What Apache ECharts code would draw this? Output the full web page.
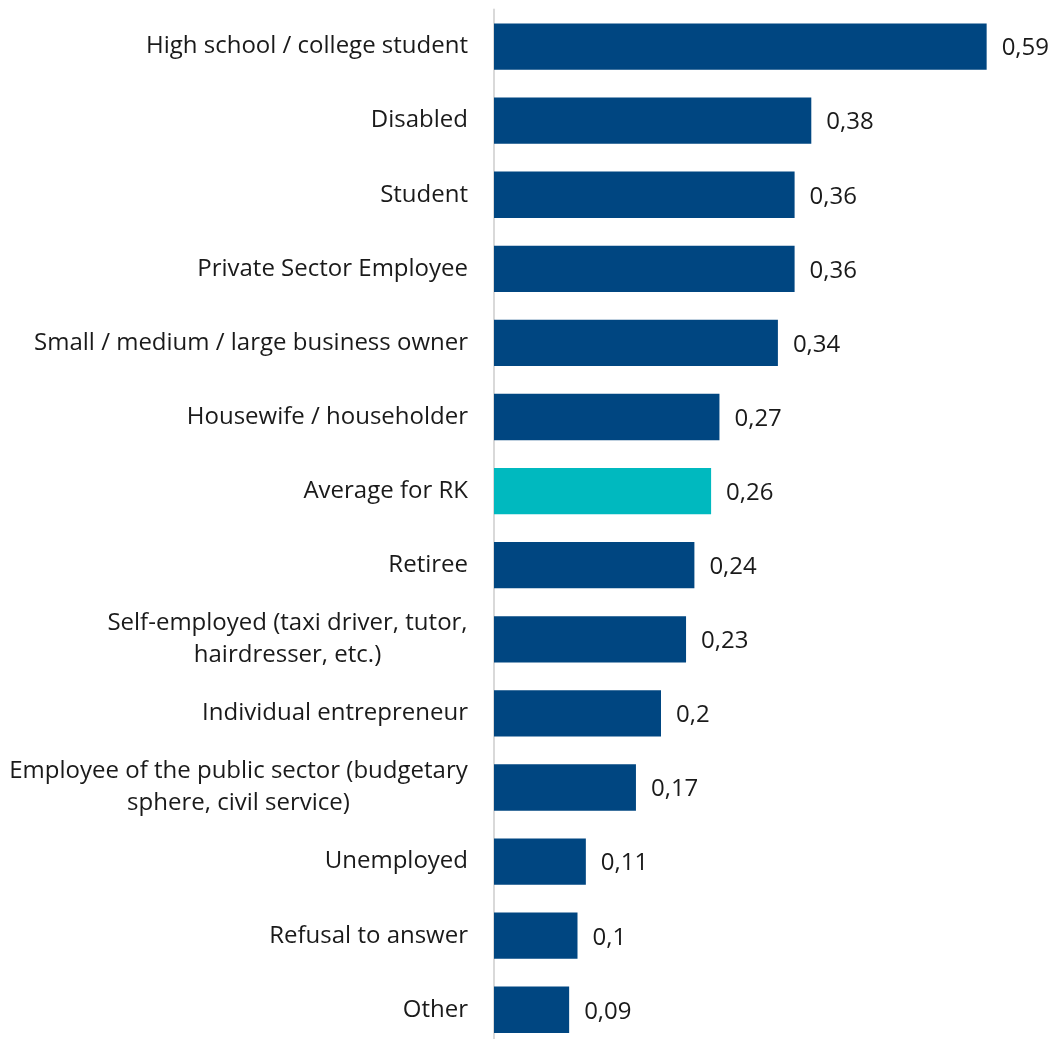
<!DOCTYPE html>
<html>
<head>
<meta charset="utf-8">
<script src="https://cdn.jsdelivr.net/npm/echarts@6/dist/echarts.min.js"></script>
<style>html,body{margin:0;padding:0;background:#fff;overflow:hidden}#c{width:1051px;height:1060px}</style>
</head>
<body>
<div id="c"></div>
<script>
const categories = [
  "High school / college student",
  "Disabled",
  "Student",
  "Private Sector Employee",
  "Small / medium / large business owner",
  "Housewife / householder",
  "Average for RK",
  "Retiree",
  "Self-employed (taxi driver, tutor,\nhairdresser, etc.)",
  "Individual entrepreneur",
  "Employee of the public sector (budgetary\nsphere, civil service)",
  "Unemployed",
  "Refusal to answer",
  "Other"
];
const values = [0.59, 0.38, 0.36, 0.36, 0.34, 0.27, 0.26, 0.24, 0.23, 0.2, 0.17, 0.11, 0.1, 0.09];
const highlightCategory = "Average for RK";

const FONT = '"Open Sans", "Noto Sans", sans-serif';
const FS = 24;
const LH = 32;
const TXT = '#1a1a1a';
const ctx = document.createElement('canvas').getContext('2d');
ctx.font = FS + 'px ' + FONT;

const rich = {};
const labelText = {};
categories.forEach((c, i) => {
  const lines = c.split('\n');
  if (lines.length > 1) {
    const w = Math.ceil(Math.max(...lines.map(l => ctx.measureText(l).width)));
    const key = 'm' + i;
    rich[key] = { width: w, align: 'center', fontSize: FS, fontFamily: FONT, color: TXT, lineHeight: LH };
    labelText[c] = lines.map(l => '{' + key + '|' + l + '}').join('\n');
  } else {
    labelText[c] = c;
  }
});

const chart = echarts.init(document.getElementById('c'));
chart.setOption({
  animation: false,
  grid: { left: 494, top: 9.5, height: 1037.3, width: 501, containLabel: false },
  xAxis: { type: 'value', min: 0, max: 0.6, show: false },
  yAxis: {
    type: 'category', data: categories, inverse: true,
    axisLine: { show: true, lineStyle: { color: '#d9d9d9', width: 2 } },
    axisTick: { show: false },
    axisLabel: {
      margin: 26, color: TXT, fontSize: FS, fontFamily: FONT,
      align: 'right', lineHeight: LH, rich: rich,
      formatter: v => labelText[v]
    }
  },
  series: [{
    type: 'bar',
    barCategoryGap: '37.5%',
    data: values.map((v, i) => ({
      value: v,
      itemStyle: { color: categories[i] === highlightCategory ? '#00B9BF' : '#004681' }
    })),
    label: {
      show: true, position: 'right', distance: 15,
      color: TXT, fontSize: FS, fontFamily: FONT,
      offset: [0, 2],
      formatter: p => String(p.value).replace('.', ',')
    }
  }]
});
</script>
</body>
</html>
